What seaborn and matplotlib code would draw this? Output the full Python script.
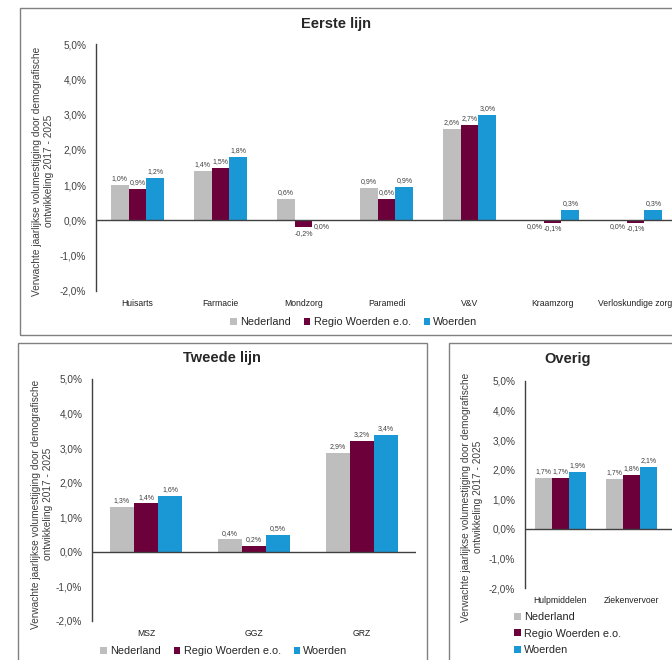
import matplotlib
matplotlib.use("Agg")
import matplotlib.pyplot as plt
from matplotlib.patches import Patch, Rectangle
import pandas as pd
import seaborn as sns

# ── Data ──────────────────────────────────────
reeksen = ["Nederland", "Regio Woerden e.o.", "Woerden"]
kleuren = ["#BEBEBE", "#6C003B", "#1A98D5"]

eerste_cat     = ["Huisarts", "Farmacie", "Mondzorg", "Paramedi", "V&V",
                  "Kraamzorg", "Verloskundige zorg"]
eerste_ned     = [1.0, 1.4, 0.6, 0.93, 2.6, 0.0, 0.0]
eerste_regio   = [0.9, 1.5, -0.2, 0.6, 2.7, -0.06, -0.06]
eerste_woerden = [1.2, 1.8, 0.0, 0.94, 3.0, 0.3, 0.3]

tweede_cat     = ["MSZ", "GGZ", "GRZ"]
tweede_ned     = [1.3, 0.36, 2.86]
tweede_regio   = [1.4, 0.17, 3.21]
tweede_woerden = [1.62, 0.49, 3.38]

overig_cat     = ["Hulpmiddelen", "Ziekenvervoer"]
overig_ned     = [1.72, 1.7]
overig_regio   = [1.72, 1.82]
overig_woerden = [1.92, 2.1]

yticks = [-2, -1, 0, 1, 2, 3, 4, 5]
ylabel = ("Verwachte jaarlijkse volumestijging door demografische\n"
          "ontwikkeling 2017 - 2025")

sns.set_style("white")
plt.rcParams["font.family"] = ["Liberation Sans", "DejaVu Sans"]

DARK = "#404040"


def pct(v):
    return f"{v:.1f}".replace(".", ",") + "%"


def make_df(cats, ned, regio, woerden):
    rows = []
    for reeks, vals in zip(reeksen, [ned, regio, woerden]):
        for c, v in zip(cats, vals):
            rows.append({"cat": c, "reeks": reeks, "val": v})
    return pd.DataFrame(rows)


def draw_panel(ax, cats, ned, regio, woerden, width, xmax):
    df = make_df(cats, ned, regio, woerden)
    sns.barplot(data=df, x="cat", y="val", hue="reeks", hue_order=reeksen,
                order=cats, palette=kleuren, width=width, gap=0,
                saturation=1, legend=False, ax=ax, linewidth=0)
    # data labels (outside end, like Excel)
    for cont, vals in zip(ax.containers, [ned, regio, woerden]):
        for bar, v in zip(cont, vals):
            xc = bar.get_x() + bar.get_width() / 2
            if v > 0:
                ax.annotate(pct(v), (xc, v), xytext=(0, 2),
                            textcoords="offset points", ha="center",
                            va="bottom", fontsize=5, color=DARK)
            else:
                ax.annotate(pct(v), (xc, min(v, 0)), xytext=(0, -2),
                            textcoords="offset points", ha="center",
                            va="top", fontsize=5, color=DARK)
    ax.axhline(0, color=DARK, lw=1)
    ax.set_ylim(-2, 5)
    ax.set_xlim(-0.5, xmax)
    ax.set_yticks(yticks)
    ax.set_yticklabels([pct(t) for t in yticks], fontsize=7.2, color=DARK)
    ax.tick_params(axis="y", length=0, pad=7)
    ax.tick_params(axis="x", length=0, pad=6, labelsize=6.2,
                   labelcolor="#202020")
    ax.set_xlabel("")
    ax.set_ylabel("")
    for s in ["top", "right", "bottom"]:
        ax.spines[s].set_visible(False)
    ax.spines["left"].set_color(DARK)
    ax.spines["left"].set_linewidth(1)
    ax.patch.set_alpha(0)


fig = plt.figure(figsize=(6.72, 6.6), dpi=100)
W, H = 672, 660


def fx(px):
    return px / W


def fy(py):
    return 1 - py / H


# panel frames
for x0, y0, x1, y1 in [(20, 8, 760, 335), (18, 343, 427, 760),
                       (449, 343, 760, 760)]:
    fig.patches.append(Rectangle((fx(x0), fy(y1)), fx(x1 - x0),
                                 (y1 - y0) / H, transform=fig.transFigure,
                                 fill=False, edgecolor="#808080", lw=1))

handles = [Patch(facecolor=c, edgecolor="none", label=r)
           for r, c in zip(reeksen, kleuren)]

# ── Eerste lijn ───────────────────────────
ax1 = fig.add_axes([fx(96), fy(291), fx(677 - 96), (291 - 44) / H])
draw_panel(ax1, eerste_cat, eerste_ned, eerste_regio, eerste_woerden,
           0.65, len(eerste_cat) - 0.5)
fig.text(fx(336), fy(24), "Eerste lijn", ha="center", va="center",
         fontsize=10.5, fontweight="bold")
fig.text(fx(43), fy(171), ylabel, rotation=90, ha="center", va="center",
         multialignment="center", fontsize=7.3, color=DARK, linespacing=1.25)
fig.legend(handles=handles, loc="center", bbox_to_anchor=(fx(354), fy(322)),
           ncol=3, frameon=False, fontsize=7.8, handlelength=0.6,
           handleheight=0.6, handletextpad=0.3, columnspacing=1.2,
           borderpad=0, borderaxespad=0)

# ── Tweede lijn ───────────────────────────
ax2 = fig.add_axes([fx(92), fy(621), fx(416 - 92), (621 - 379) / H])
draw_panel(ax2, tweede_cat, tweede_ned, tweede_regio, tweede_woerden,
           0.67, len(tweede_cat) - 0.5)
fig.text(fx(222), fy(358), "Tweede lijn", ha="center", va="center",
         fontsize=10.5, fontweight="bold")
fig.text(fx(42), fy(504), ylabel, rotation=90, ha="center", va="center",
         multialignment="center", fontsize=7.3, color=DARK, linespacing=1.25)
fig.legend(handles=handles, loc="center", bbox_to_anchor=(fx(224), fy(651)),
           ncol=3, frameon=False, fontsize=7.8, handlelength=0.6,
           handleheight=0.6, handletextpad=0.3, columnspacing=1.2,
           borderpad=0, borderaxespad=0)

# ── Overig ────────────────────────────────
ax3 = fig.add_axes([fx(525), fy(588), fx(71 * 2.5), (588 - 381) / H])
draw_panel(ax3, overig_cat, overig_ned, overig_regio, overig_woerden,
           0.72, 2.0)
fig.text(fx(568), fy(359), "Overig", ha="center", va="center",
         fontsize=10.5, fontweight="bold")
fig.text(fx(472), fy(497), ylabel, rotation=90, ha="center", va="center",
         multialignment="center", fontsize=7.3, color=DARK, linespacing=1.25)
fig.legend(handles=handles, loc="upper left", bbox_to_anchor=(fx(514), fy(612)),
           ncol=1, frameon=False, fontsize=7.8, handlelength=0.6,
           handleheight=0.6, handletextpad=0.3, labelspacing=0.62,
           borderpad=0, borderaxespad=0)

plt.savefig("out.png", dpi=100)
plt.close()
